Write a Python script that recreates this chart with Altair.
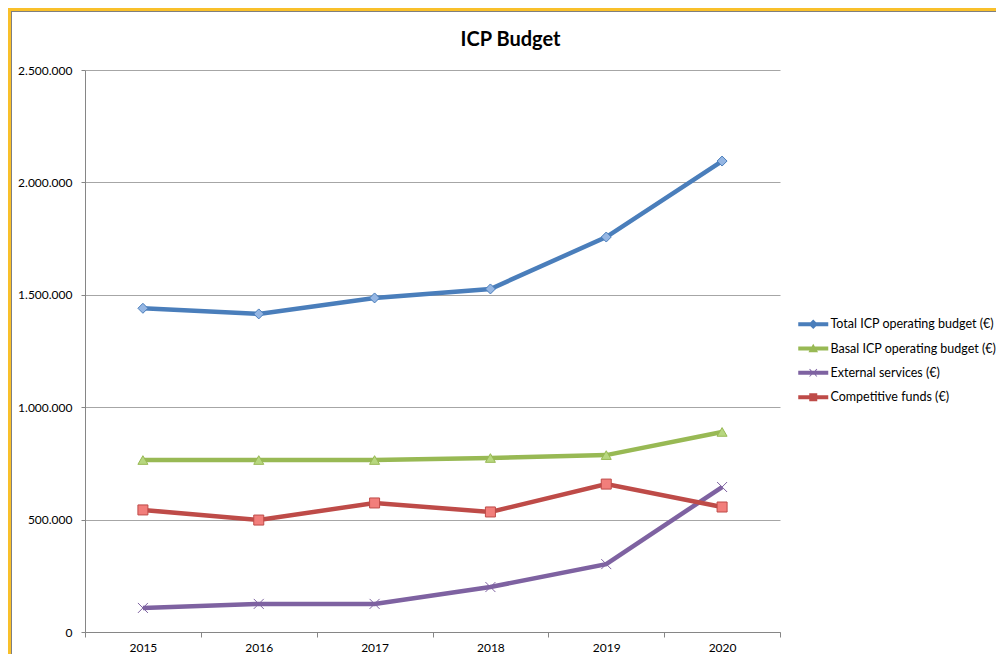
import altair as alt
import pandas as pd

years = ["2015", "2016", "2017", "2018", "2019", "2020"]
series = [
    "Total ICP operating budget (€)",
    "Basal ICP operating budget (€)",
    "External services (€)",
    "Competitive funds (€)",
]
total = [1440000, 1415000, 1486000, 1526000, 1757000, 2095000]
basal = [765000, 765000, 765000, 774000, 787000, 890000]
external = [107000, 125000, 125000, 200000, 302000, 645000]
competitive = [543000, 498000, 574000, 534000, 658000, 556000]
y_ticks = [0, 500000, 1000000, 1500000, 2000000, 2500000]

line_colors = ["#4a7ebb", "#98b954", "#7e62a1", "#be4b48"]
fill_colors = ["#95b6e3", "#b7d77f", "#7e62a1", "#f27e7b"]
marker_shapes = ["diamond", "triangle-up", "M-1,-1L1,1M-1,1L1,-1", "square"]
LINE = "M-3.75,-0.5L3.75,-0.5L3.75,0.5L-3.75,0.5Z"
legend_shapes = [
    LINE + "M-1.2,0L0,-1.2L1.2,0L0,1.2Z",
    LINE + "M0,-1.2L1.2,0.9L-1.2,0.9Z",
    LINE + "M-1,-0.85L-0.85,-1L1,0.85L0.85,1ZM0.85,-1L1,-0.85L-0.85,1L-1,0.85Z",
    LINE + "M-1,-1L1,-1L1,1L-1,1Z",
]

rows = []
for s, vals in zip(series, [total, basal, external, competitive]):
    for yr, v in zip(years, vals):
        rows.append({"year": yr, "series": s, "value": v})
df = pd.DataFrame(rows)

FONT = "Lato"

x_enc = alt.X(
    "year:O",
    scale=alt.Scale(type="band", domain=years, paddingInner=0, paddingOuter=0),
    bandPosition=0.5,
    axis=alt.Axis(
        title=None, labelAngle=0, tickBand="extent", grid=False,
        domainColor="#868686", tickColor="#868686", tickSize=5,
        labelPadding=5, labelFont=FONT, labelFontSize=12, labelColor="#000000",
    ),
)
y_enc = alt.Y(
    "value:Q",
    scale=alt.Scale(domain=[0, 2500000], nice=False),
    axis=alt.Axis(
        title=None, values=y_ticks,
        labelExpr="replace(replace(format(datum.value, ','), ',', '.'), ',', '.')",
        grid=True, gridColor="#a6a6a6", gridWidth=1,
        domainColor="#868686", tickColor="#868686", tickSize=4,
        labelPadding=9, labelFont=FONT, labelFontSize=12, labelColor="#000000",
    ),
)

base = alt.Chart(df)

line_layers = []
point_layers = []
for s, shp, fc, lc in zip(series, marker_shapes, fill_colors, line_colors):
    line_layers.append(
        base.mark_line(strokeWidth=4.5, color=lc).encode(
            x=x_enc, y=y_enc, order=alt.Order("year:O")
        ).transform_filter(alt.datum.series == s)
    )
    point_layers.append(
        base.mark_point(
            filled=True, size=100, opacity=1, strokeWidth=1,
            shape=shp, fill=fc, stroke=lc,
        ).encode(x=x_enc, y=y_enc).transform_filter(alt.datum.series == s)
    )

leg = alt.Legend(
    title=None, orient="none", legendX=722, legendY=248,
    symbolSize=64, labelFont=FONT, labelFontSize=12.5, labelColor="#000000",
    labelOffset=11, rowPadding=11.3, padding=0, labelLimit=400,
)
legend_layer = base.mark_point(filled=True, size=64, opacity=1, strokeWidth=0).encode(
    x=x_enc,
    y=y_enc,
    color=alt.Color("series:N", scale=alt.Scale(domain=series, range=line_colors), legend=leg),
    shape=alt.Shape("series:N", scale=alt.Scale(domain=series, range=legend_shapes), legend=leg),
).transform_filter(alt.datum.value < 0)

border_top = alt.Chart(df).mark_rule(color="#f9c02a", strokeWidth=3).encode(
    x=alt.value(-77), x2=alt.value(911), y=alt.value(-60.5)
)
border_top_in = alt.Chart(df).mark_rule(color="#7f7f7f", strokeWidth=1).encode(
    x=alt.value(-74), x2=alt.value(911), y=alt.value(-58.5)
)
border_left = alt.Chart(df).mark_rule(color="#f9c02a", strokeWidth=3).encode(
    x=alt.value(-75.5), y=alt.value(-62), y2=alt.value(584)
)
border_left_in = alt.Chart(df).mark_rule(color="#7f7f7f", strokeWidth=1).encode(
    x=alt.value(-73.5), y=alt.value(-59), y2=alt.value(584)
)

chart = alt.layer(
    border_top, border_top_in, border_left, border_left_in,
    *line_layers, *point_layers, legend_layer
).properties(
    width=695,
    height=562,
    autosize=alt.AutoSizeParams(type="none"),
    padding={"left": 77, "top": 62, "right": 216, "bottom": 22},
    title=alt.Title(
        "ICP Budget", font=FONT, fontSize=20, fontWeight="bold", color="#000000",
        anchor="middle", frame="group", dx=78, offset=-59, baseline="alphabetic",
    ),
).configure_view(strokeWidth=0)

chart.save("out.html", embed_options={"renderer": "svg", "actions": False})
